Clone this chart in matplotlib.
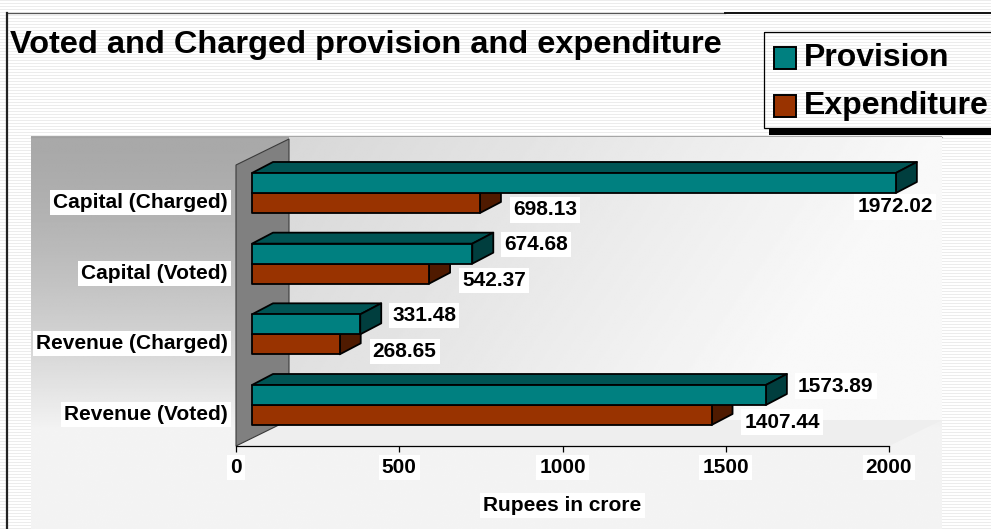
import numpy as np
import matplotlib
matplotlib.use("Agg")
import matplotlib.pyplot as plt
from matplotlib.patches import Polygon, Rectangle

# ---------------- data ----------------
categories = ["Revenue (Voted)", "Revenue (Charged)", "Capital (Voted)", "Capital (Charged)"]
provision = [1573.89, 331.48, 674.68, 1972.02]
expenditure = [1407.44, 268.65, 542.37, 698.13]
xticks = [0, 500, 1000, 1500, 2000]
title = "Voted and Charged provision and expenditure"
xlabel = "Rupees in crore"
series_names = ["Provision", "Expenditure"]

# ---------------- style ----------------
plt.rcParams["font.family"] = ["Liberation Sans", "DejaVu Sans"]
plt.rcParams["font.weight"] = "bold"
W, H, DPI = 991, 529, 100
TEAL, TEAL_TOP, TEAL_SIDE = "#008080", "#005454", "#003e3e"
BROWN, BROWN_TOP, BROWN_SIDE = "#993300", "#732600", "#4f1a00"

fig = plt.figure(figsize=(W / DPI, H / DPI), dpi=DPI)

# background axes in pixel coordinates
bg = fig.add_axes([0, 0, 1, 1], zorder=-1)
bg.set_xlim(0, W)
bg.set_ylim(H, 0)
bg.axis("off")

stripes = np.ones((H, W))
stripes[::3, :] = 0.925
bg.imshow(stripes, cmap="gray", vmin=0, vmax=1, extent=(0, W, H, 0),
          interpolation="nearest", aspect="auto", zorder=0)

# chart area gradient (vertical: grey at top to near white at bottom)
cx0, cx1, cy0, cy1 = 31, 942, 136, 529
gy = np.linspace(0, 1, 300)[:, None] * np.ones((1, 10))
grad = 0.66 + 0.295 * np.minimum(1, gy / 0.75) ** 1.5
bg.imshow(grad, cmap="gray", vmin=0, vmax=1, extent=(cx0, cx1, cy1, cy0),
          interpolation="bilinear", aspect="auto", zorder=1)
bg.plot([cx0, cx1], [cy0 + 0.5, cy0 + 0.5], color="#a0a0a0", lw=0.8, zorder=2)

# outer borders
bg.plot([7, 725], [12.5, 12.5], color="#555555", lw=0.9, zorder=3)
bg.plot([725, W], [12.5, 12.5], color="#111111", lw=1.4, zorder=3)
bg.plot([7, 7], [12.5, H], color="#222222", lw=1.6, zorder=3)

# title
bg.text(10, 45, title, fontsize=23.4, fontweight="bold", ha="left", va="center",
        color="black", zorder=4)

# legend (manual, pixel coordinates)
bg.add_patch(Rectangle((769, 128), 230, 7, facecolor="black", edgecolor="none", zorder=4))
bg.add_patch(Rectangle((764, 32), 240, 96, facecolor="none", edgecolor="black", lw=0.9, zorder=4))
for (yc, col, name) in [(58, TEAL, series_names[0]), (106, BROWN, series_names[1])]:
    bg.add_patch(Rectangle((773.5, yc - 11), 22, 22, facecolor=col, edgecolor="black",
                           lw=1.4, zorder=5))
    bg.text(804, yc, name, fontsize=23, fontweight="bold", ha="left", va="center", zorder=5)

# ---------------- main axes ----------------
ax_left, ax_right, ax_top, ax_bottom = 236, 889, 139, 446
ax = fig.add_axes([ax_left / W, (H - ax_bottom) / H, (ax_right - ax_left) / W,
                   (ax_bottom - ax_top) / H], zorder=1)
ax.patch.set_alpha(0)

XMAX = 2000.0
px_per_unit = (ax_right - ax_left) / XMAX
cat_px = 70.67
y_lo = -41 / cat_px
y_hi = (405 - 139) / cat_px

def ux(px):
    return px / px_per_unit

def uy(px):
    return px / cat_px

wall_dx, wall_dy = ux(53), uy(26)
bar_off = ux(16)
dx, dy = ux(21), uy(11)
bh = uy(20)

# back wall gradient (horizontal, lighter to the right and bottom)
bw_x0, bw_x1 = wall_dx, ux(942 - ax_left)
bw_y0, bw_y1 = y_lo + wall_dy, y_hi + uy(2)
tx = np.linspace(0, 1, 300)[None, :]
ty = np.linspace(0, 1, 200)[:, None]  # 0 at top
wall_grad = 0.845 + 0.13 * np.minimum(1, 1.0 * tx + 0.3 * ty)
ax.imshow(wall_grad, cmap="gray", vmin=0, vmax=1, extent=(bw_x0, bw_x1, bw_y0, bw_y1),
          origin="upper", interpolation="bilinear", aspect="auto", zorder=0, clip_on=False)

# floor
ax.add_patch(Polygon([(0, y_lo), (XMAX, y_lo), (XMAX + wall_dx, y_lo + wall_dy),
                      (wall_dx, y_lo + wall_dy)], closed=True, facecolor="#eeeeee",
                     edgecolor="none", zorder=0.5, clip_on=False))
# side wall
ax.add_patch(Polygon([(0, y_lo), (0, y_hi - wall_dy), (wall_dx, y_hi), (wall_dx, y_lo + wall_dy)],
                     closed=True, facecolor="#808080", edgecolor="#3a3a3a", lw=0.8,
                     zorder=1, clip_on=False))

def bar3d(y0, value, front, top, side, z):
    x0 = bar_off
    x1 = bar_off + value
    kw = dict(closed=True, edgecolor="black", lw=1.3, joinstyle="round", clip_on=False)
    ax.add_patch(Polygon([(x0, y0 + bh), (x1, y0 + bh), (x1 + dx, y0 + bh + dy),
                          (x0 + dx, y0 + bh + dy)], facecolor=top, zorder=z, **kw))
    ax.add_patch(Polygon([(x1, y0), (x1 + dx, y0 + dy), (x1 + dx, y0 + bh + dy), (x1, y0 + bh)],
                         facecolor=side, zorder=z, **kw))
    ax.add_patch(Polygon([(x0, y0), (x1, y0), (x1, y0 + bh), (x0, y0 + bh)],
                         facecolor=front, zorder=z + 0.1, **kw))
    return x1

lbl_box = dict(boxstyle="square,pad=0.15", facecolor="white", edgecolor="none")
n = len(categories)
for i in range(n):
    zbase = 2 + (n - i) * 0.5
    xe = bar3d(i - bh, expenditure[i], BROWN, BROWN_TOP, BROWN_SIDE, zbase)
    xp = bar3d(i, provision[i], TEAL, TEAL_TOP, TEAL_SIDE, zbase + 0.2)
    # expenditure label
    ax.annotate(f"{expenditure[i]:.2f}", xy=(xe, i - bh / 2), xytext=(33, -7),
                textcoords="offset pixels", ha="left", va="center", fontsize=15,
                fontweight="bold", bbox=lbl_box, zorder=10, annotation_clip=False)
    # provision label
    if provision[i] > 0.9 * XMAX:
        ax.annotate(f"{provision[i]:.2f}", xy=(xp, i + bh / 2), xytext=(37, -24),
                    textcoords="offset pixels", ha="right", va="center", fontsize=15,
                    fontweight="bold", bbox=lbl_box, zorder=10, annotation_clip=False)
    else:
        ax.annotate(f"{provision[i]:.2f}", xy=(xp, i + bh / 2), xytext=(32, 9),
                    textcoords="offset pixels", ha="left", va="center", fontsize=15,
                    fontweight="bold", bbox=lbl_box, zorder=10, annotation_clip=False)

ax.set_xlim(0, XMAX)
ax.set_ylim(y_lo, y_hi)
for s in ["left", "right", "top"]:
    ax.spines[s].set_visible(False)
ax.spines["bottom"].set_color("black")
ax.spines["bottom"].set_linewidth(0.9)
ax.spines["bottom"].set_zorder(3)

ax.set_xticks(xticks)
ax.set_xticklabels([str(t) for t in xticks], fontsize=15, fontweight="bold")
ax.tick_params(axis="x", direction="out", length=4.5, width=0.9, color="black", pad=4)
ax.set_yticks(np.arange(n) - uy(7.5))
ax.set_yticklabels(categories, fontsize=15, fontweight="bold")
ax.tick_params(axis="y", length=0, pad=6)
for t in ax.get_xticklabels() + ax.get_yticklabels():
    t.set_bbox(dict(boxstyle="square,pad=0.15", facecolor="white", edgecolor="none"))

ax.set_xlabel(xlabel, fontsize=15, fontweight="bold", labelpad=14,
              bbox=dict(boxstyle="square,pad=0.15", facecolor="white", edgecolor="none"))

fig.savefig("out.png", dpi=DPI)
